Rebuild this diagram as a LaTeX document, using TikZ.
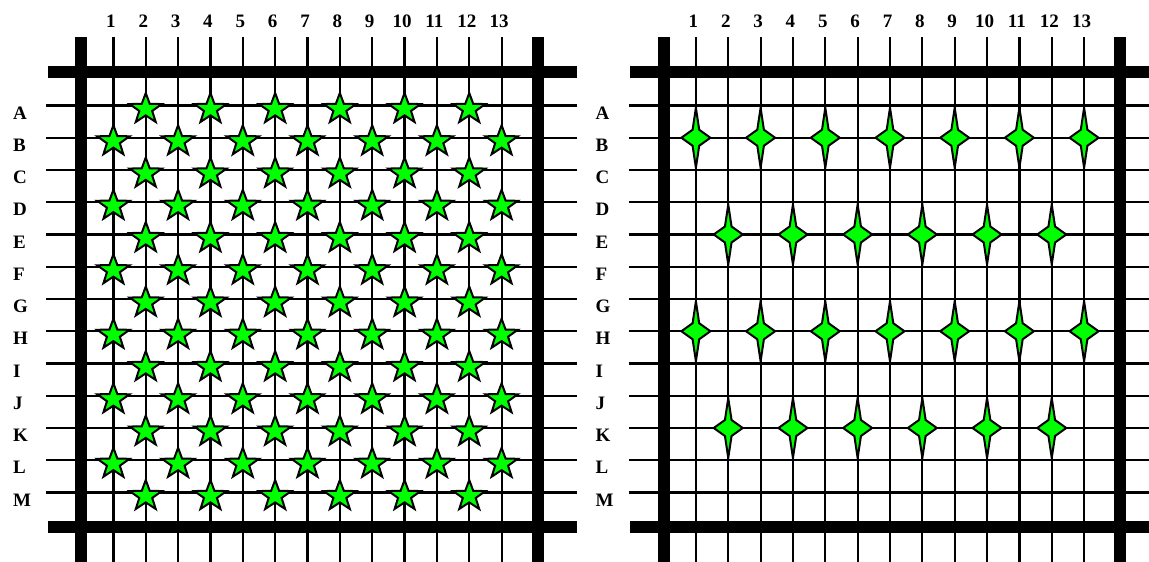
\documentclass[tikz,border=0pt]{standalone}
\usepackage{fontspec}
\setmainfont{Liberation Serif}
\definecolor{stargreen}{RGB}{0,255,0}
\begin{document}
\begin{tikzpicture}[x=1bp,y=-1bp,
  gridline/.style={line width=2.2bp, black},
  bar/.style={line width=12bp, black},
  lbl/.style={font=\fontsize{19bp}{20bp}\selectfont\bfseries, inner sep=0pt},
  fivestar/.style={fill=stargreen, draw=black, line width=2bp, line join=miter, xscale=1.06},
  sparkle/.style={fill=stargreen, draw=black, line width=2bp, line join=miter}]
\useasboundingbox (0,0) rectangle (1149,562);
\clip (0,0) rectangle (1149,562);
\fill[white] (0,0) rectangle (1149,562);
\foreach \p/\off in {0/0, 1/582.5} {
  \begin{scope}[xshift=\off bp]
    \foreach \i in {1,...,13} {
      \pgfmathsetmacro\cx{113.4+(\i-1)*32.35}
      \draw[gridline] (\cx,37) -- (\cx,562);
      \node[lbl] (col\p-\i) at (\cx-2.5,21) {\i};
    }
    \foreach \r [count=\j from 0] in {A,B,C,D,E,F,G,H,I,J,K,L,M} {
      \pgfmathsetmacro\ry{105.5+\j*32.25}
      \draw[gridline] (46,\ry) -- (577,\ry);
      \node[lbl, anchor=west] (row\p-\r) at (13,\ry+7.5) {\r};
    }
    \draw[bar] (81,37) -- (81,562);
    \draw[bar] (537.5,37) -- (537.5,562);
    \draw[bar] (47.7,72.5) -- (576.7,72.5);
    \draw[bar] (47.7,527) -- (576.7,527);
  \end{scope}
}
% five-pointed stars, left panel
\foreach \j in {0,...,12} {
  \foreach \i in {1,...,13} {
    \pgfmathtruncatemacro\s{mod(\i+\j,2)}
    \ifnum\s=0
      \pgfmathsetmacro\cx{113.4+(\i-1)*32.35}
      \pgfmathsetmacro\cy{105.5+\j*32.25+3.5}
      \draw[shift={(\cx,\cy)}, fivestar] (-90:16) -- (-54:6.4) -- (-18:16) -- (18:6.4) -- (54:16) -- (90:6.4) -- (126:16) -- (162:6.4) -- (198:16) -- (234:6.4) -- cycle;
    \fi
  }
}
% four-pointed sparkles, right panel
\foreach \j/\st in {1/1, 4/2, 7/1, 10/2} {
  \foreach \i in {\st,...,13} {
    \pgfmathtruncatemacro\s{mod(\i-\st,2)}
    \ifnum\s=0
      \pgfmathsetmacro\cx{582.5+113.4+(\i-1)*32.35}
      \pgfmathsetmacro\cy{105.5+\j*32.25}
      \draw[shift={(\cx,\cy)}, sparkle] (0,-30) -- (3.3,-8) -- (14.5,0) -- (3.3,8) -- (0,30) -- (-3.3,8) -- (-14.5,0) -- (-3.3,-8) -- cycle;
    \fi
  }
}
\end{tikzpicture}
\end{document}
